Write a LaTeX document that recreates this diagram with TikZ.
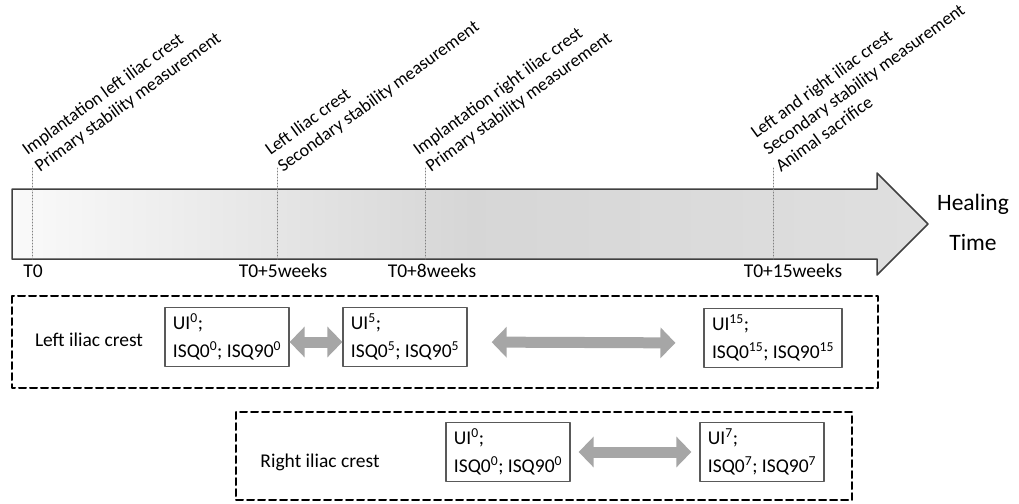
\documentclass[tikz,border=0pt]{standalone}
\usepackage{fontspec}
\setmainfont{Carlito}
\usepackage{tikz}
\usetikzlibrary{arrows.meta,positioning}

\tikzset{
  datebox/.style={draw=black!65,line width=1.2pt,fill=white,align=left,
    inner xsep=8pt,minimum height=59pt,font=\fontsize{19.5}{28}\selectfont},
  groupbox/.style={draw=black,line width=2pt,dash pattern=on 7pt off 4pt},
  fatarrow/.style={draw=gray!70,line width=11pt,
    {Triangle[width=30pt,length=15pt]}-{Triangle[width=30pt,length=15pt]}},
  eventlabel/.style={rotate=36,anchor=south west,inner sep=0pt,text depth=0pt,
    align=left,font=\fontsize{18}{21}\selectfont},
  timelabel/.style={font=\fontsize{19.5}{23}\selectfont,inner sep=0pt},
}

\begin{document}
\begin{tikzpicture}[x=1pt,y=-1pt,line cap=round,line join=round]
\useasboundingbox (0,0) rectangle (1019,503);
% time arrow
\draw[draw=black!75,line width=1.5pt,left color=gray!4,right color=gray!25,middle color=gray!32]
  (12,189) -- (877,189) -- (877,173) -- (928,224) -- (877,275) -- (877,259) -- (12,259) -- cycle;
\node[font=\fontsize{23.5}{40}\selectfont,align=center] (heal) at (973,222) {Healing\\Time};
% event marks
\foreach \n/\x in {a/32,b/277,c/425,d/773}{
  \coordinate (top\n) at (\x,168);
  \coordinate (bot\n) at (\x,259);
  \draw[dotted,gray,line width=1pt] (top\n) -- (bot\n);
}
\node[eventlabel] (eva) at ([xshift=8pt,yshift=-5pt]topa) {Implantation left iliac crest\\Primary stability measurement};
\node[eventlabel] (evb) at ([xshift=6pt,yshift=-5pt]topb) {Left Iliac crest\\Secondary stability measurement};
\node[eventlabel] (evc) at ([xshift=6pt,yshift=-5pt]topc) {Implantation right iliac crest\\Primary stability measurement};
\node[eventlabel] (evd) at ([xshift=8pt,yshift=-5pt]topd) {Left and right iliac crest\\Secondary stability measurement\\Animal sacrifice};
\node[timelabel] (ta) at (33,271) {T0};
\node[timelabel] (tb) at (283,271) {T0+5weeks};
\node[timelabel] (tc) at (432,271) {T0+8weeks};
\node[timelabel] (td) at (793,271) {T0+15weeks};
% left iliac crest
\draw[groupbox] (12,296) rectangle (878,388);
\node[timelabel] (leftname) at (89,340) {Left iliac crest};
\node[datebox] (l0) at (227,337) {UI\textsuperscript{0};\\ISQ0\textsuperscript{0}; ISQ90\textsuperscript{0}};
\node[datebox] (l5) at (405,337) {UI\textsuperscript{5};\\ISQ0\textsuperscript{5}; ISQ90\textsuperscript{5}};
\node[datebox] (l15) at (773,338) {UI\textsuperscript{15};\\ISQ0\textsuperscript{15}; ISQ90\textsuperscript{15}};
\draw[fatarrow] ([yshift=-5pt]l0.east) -- ([yshift=-5pt]l5.west);
\draw[fatarrow,shorten <=24pt,shorten >=28pt] ([yshift=-5pt]l5.east) -- ([yshift=-5pt]l15.west);
% right iliac crest
\draw[groupbox] (236,412) rectangle (852,500);
\node[timelabel] (rightname) at (320,462) {Right iliac crest};
\node[datebox] (r0) at (508,452) {UI\textsuperscript{0};\\ISQ0\textsuperscript{0}; ISQ90\textsuperscript{0}};
\node[datebox] (r7) at (762,452) {UI\textsuperscript{7};\\ISQ0\textsuperscript{7}; ISQ90\textsuperscript{7}};
\draw[fatarrow,shorten <=8pt,shorten >=8pt] (r0) -- (r7);
\end{tikzpicture}
\end{document}
